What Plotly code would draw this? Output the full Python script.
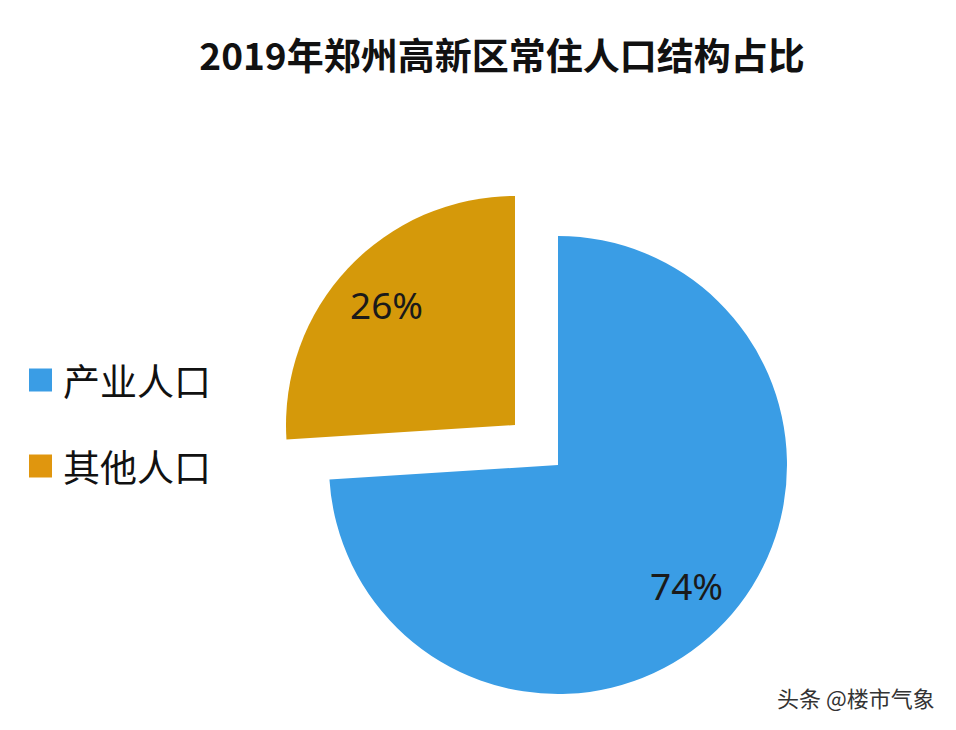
import math
import plotly.graph_objects as go

title = "2019年郑州高新区常住人口结构占比"
labels = ["产业人口", "其他人口"]
values = [74, 26]
colors = ["#3A9DE5", "#D5990A"]
legend_colors = ["#3A9DE5", "#E0960E"]
watermark = "头条 @楼市气象"

W, H = 956, 730
FONT = "Noto Sans CJK SC, Noto Sans, sans-serif"
R = 229
centers = [(558, 465), (515, 425)]  # main pie centre, exploded slice centre (px)

def dom(cx, cy, r):
    return dict(x=[(cx - r) / W, (cx + r) / W], y=[1 - (cy + r) / H, 1 - (cy - r) / H])

pct = [f"{v}%" for v in values]
total = sum(values)

fig = go.Figure()
for i in range(len(values)):
    cols = ["rgba(0,0,0,0)"] * len(values)
    cols[i] = colors[i]
    fig.add_trace(go.Pie(
        labels=labels, values=values, sort=False, direction="clockwise", rotation=0,
        marker=dict(colors=cols, line=dict(width=0)),
        textinfo="none", domain=dom(*centers[i], R),
        showlegend=False, hoverinfo="skip",
    ))

annotations = []
shapes = []
# percentage labels along each slice's mid-angle
cum = 0
for i, v in enumerate(values):
    mid = (cum + v / 2) / total * 2 * math.pi
    cum += v
    cx, cy = centers[i]
    px = cx + 0.77 * R * math.sin(mid)
    py = cy - 0.77 * R * math.cos(mid)
    annotations.append(dict(text=pct[i], x=px / W, y=1 - py / H, xref="paper", yref="paper",
                            xanchor="center", yanchor="middle", showarrow=False,
                            font=dict(size=37, color="#1A1A1A", family="Noto Sans, sans-serif")))

# legend
leg_y = [380, 466]
for i, lab in enumerate(labels):
    yc = leg_y[i]
    shapes.append(dict(type="rect", xref="paper", yref="paper",
                       x0=29 / W, x1=52 / W, y0=1 - (yc + 11.5) / H, y1=1 - (yc - 11.5) / H,
                       fillcolor=legend_colors[i], line=dict(width=0)))
    annotations.append(dict(text=lab, x=61 / W, y=1 - yc / H, xref="paper", yref="paper",
                            xanchor="left", yanchor="middle", showarrow=False,
                            font=dict(size=37, color="#111111", family=FONT)))

annotations.append(dict(text=watermark, x=937 / W, y=1 - 697 / H, xref="paper", yref="paper",
                        xanchor="right", yanchor="middle", showarrow=False,
                        font=dict(size=22, color="#333333", family=FONT)))

fig.update_layout(
    width=W, height=H,
    margin=dict(l=0, r=0, t=0, b=0),
    paper_bgcolor="white", plot_bgcolor="white",
    title=dict(text=f"<b>{title}</b>", x=502 / W, xanchor="center",
               y=1 - 57 / H, yanchor="middle",
               font=dict(size=37, color="#111111", family=FONT)),
    showlegend=False,
    annotations=annotations, shapes=shapes,
)

fig.write_html("out.html")
